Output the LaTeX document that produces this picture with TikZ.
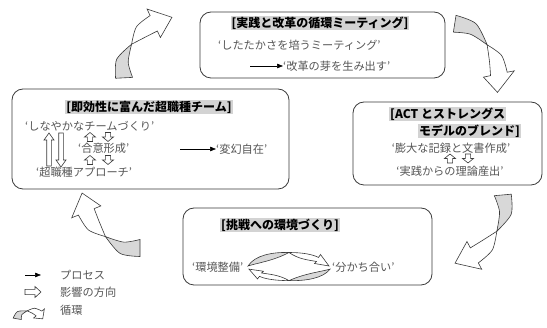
\documentclass[tikz,border=0pt]{standalone}
\usepackage{fontspec}
\newfontfamily\jp{Noto Sans CJK JP}
\usetikzlibrary{arrows.meta}
\definecolor{titlegray}{HTML}{D3D3D3}
\definecolor{bodygray}{HTML}{555555}
\definecolor{ribgray}{HTML}{D8D8D8}
\definecolor{linegray}{HTML}{3A3A3A}

% ribbon arrow: cx, cy, A0 (tail angle), A1 (tip angle), R0, R1, h
\newcommand{\ribbon}[7]{%
\pgfmathsetmacro\ribD{#4-#3}%
\pgfmathsetmacro\ribRD{#6-#5}%
\pgfmathsetmacro\ribAm{#3+0.2*\ribD}%
\pgfmathsetmacro\ribAt{#3+0.42*\ribD}%
\pgfmathsetmacro\ribAw{#3+0.6*\ribD}%
\pgfmathsetmacro\ribAb{#3+0.78*\ribD}%
\pgfmathsetmacro\ribRo{#5+#7}%
\pgfmathsetmacro\ribRi{#5-#7}%
\pgfmathsetmacro\ribRmo{#5+0.2*\ribRD+1.0*#7}%
\pgfmathsetmacro\ribRmi{#5+0.2*\ribRD-0.4*#7}%
\pgfmathsetmacro\ribRt{#5+0.42*\ribRD}%
\pgfmathsetmacro\ribRwo{#5+0.6*\ribRD+0.85*#7}%
\pgfmathsetmacro\ribRwi{#5+0.6*\ribRD-0.75*#7}%
\pgfmathsetmacro\ribRbo{#5+0.78*\ribRD+1.0*#7}%
\pgfmathsetmacro\ribRbi{#5+0.78*\ribRD-1.0*#7}%
\pgfmathsetmacro\ribRho{#5+0.78*\ribRD+1.85*#7}%
\pgfmathsetmacro\ribRhi{#5+0.78*\ribRD-1.85*#7}%
\begin{scope}[shift={(#1,#2)}]
\filldraw[ribback] plot[smooth] coordinates {(#3:\ribRo) (\ribAm:\ribRmo) (\ribAt:\ribRt)}
  -- plot[smooth] coordinates {(\ribAt:\ribRt) (\ribAm:\ribRmi) (#3:\ribRi)} -- cycle;
\filldraw[ribfront] plot[smooth] coordinates {(\ribAt:\ribRt) (\ribAw:\ribRwo) (\ribAb:\ribRbo)}
  -- (\ribAb:\ribRho) -- (#4:#6) -- (\ribAb:\ribRhi)
  -- plot[smooth] coordinates {(\ribAb:\ribRbi) (\ribAw:\ribRwi) (\ribAt:\ribRt)} -- cycle;
\end{scope}}

% hollow block arrow: x, y (base), rotation, length, shaft half width, head half width, head length
\newcommand{\hollowarrow}[7]{%
\draw[hollow,shift={(#1,#2)},rotate=#3] (0,-#5) -- ({#4-#7},-#5) -- ({#4-#7},-#6) -- (#4,0)
  -- ({#4-#7},#6) -- ({#4-#7},#5) -- (0,#5) -- cycle;}

% flat cycle arrow (drawn in local coordinates)
\newcommand{\flatcycle}{%
\filldraw[ribback] (-41,1) .. controls (-34,-10) and (-16,-13) .. (0,-12.5)
  .. controls (-16,-4) and (-32,-2) .. (-41,1) -- cycle;
\filldraw[ribfront] (0,-12.5) .. controls (14,-12.5) and (24,-10.5) .. (29.5,-7.5) -- (31.5,-10.5) -- (40,1)
  -- (25.5,-1.5) -- (27.5,-3.5) .. controls (20,-5) and (10,-5.5) .. (0,-12.5) -- cycle;}

\begin{document}
\begin{tikzpicture}[x=1pt,y=-1pt,
  box/.style={draw=linegray, line width=0.8pt, rounded corners=11pt, inner sep=0pt},
  title/.style={font=\jp\bfseries\fontsize{12}{14}\selectfont, fill=titlegray, text=black, inner sep=1pt},
  body/.style={font=\jp\fontsize{11.2}{13}\selectfont, text=bodygray, inner sep=0pt},
  proc/.style={-{Triangle[length=6pt,width=4.5pt]}, line width=0.6pt, black},
  hollow/.style={draw=linegray, fill=white, line width=0.6pt},
  ribback/.style={draw=linegray, fill=ribgray, line width=0.6pt},
  ribfront/.style={draw=linegray, fill=white, line width=0.6pt}]
\useasboundingbox (0,0) rectangle (547,328);

% boxes
\node[box, minimum width=245pt, minimum height=66pt] (topbox) at (322.5,45) {};
\node[box, minimum width=277pt, minimum height=100pt] (leftbox) at (150.5,139) {};
\node[box, minimum width=189pt, minimum height=83pt] (rightbox) at (447.5,143.5) {};
\node[box, minimum width=249pt, minimum height=77pt] (botbox) at (307.5,246.5) {};

% top box
\node[title] (t1) at (320,23) {[実践と改革の循環ミーティング]};
\node[body, anchor=west] (t1a) at (218,45) {‘したたかさを培うミーティング’};
\node[body, anchor=west] (t1b) at (283,66) {‘改革の芽を生み出す’};
\coordinate (t1s) at (250,66);
\draw[proc] (t1s) -- (t1b.west);

% left box
\node[title] (l1) at (149,107) {[即効性に富んだ超職種チーム]};
\node[body, anchor=west] (l1a) at (25,126) {‘しなやかなチームづくり’};
\node[body, anchor=west] (l1b) at (78,148) {‘合意形成’};
\node[body, anchor=west] (l1c) at (36,172) {‘超職種アプローチ’};
\node[body, anchor=west] (l1d) at (216,149) {‘変幻自在’};
\coordinate (l1s) at (180,149);
\draw[proc] (l1s) -- (l1d.west);
\hollowarrow{49}{166}{90}{33}{2.3}{5}{7}
\hollowarrow{61}{133}{-90}{34}{2.3}{5}{7}
\hollowarrow{90}{141.5}{90}{9}{2.6}{5.5}{4.5}
\hollowarrow{108}{132.5}{-90}{9}{2.6}{5.5}{4.5}
\hollowarrow{90}{164.5}{90}{9}{2.6}{5.5}{4.5}
\hollowarrow{108}{155.5}{-90}{9}{2.6}{5.5}{4.5}

% right box
\node[title, anchor=west] (r1) at (389,114) {[ACT とストレングス};
\node[title, anchor=east] (r2) at (521,131) {モデルのブレンド]};
\node[body] (r3) at (451,148) {‘膨大な記録と文書作成’};
\node[body] (r4) at (450,171) {‘実践からの理論産出’};
\hollowarrow{450}{163}{90}{9}{2.6}{5.5}{4.5}
\hollowarrow{468}{154}{-90}{9}{2.6}{5.5}{4.5}

% bottom box
\node[title] (b1) at (280,225) {[挑戦への環境づくり]};
\node[body, anchor=west] (b2) at (192,267) {‘環境整備’};
\node[body, anchor=west] (b3) at (332,267) {‘分かち合い’};
\begin{scope}[shift={(289,265)}]
\flatcycle
\end{scope}
\begin{scope}[shift={(289,270)}, rotate=180, yscale=0.85]
\flatcycle
\end{scope}

% big circulation arrows
\ribbon{178}{75}{177}{264}{54}{58}{8.5}
\ribbon{445}{85}{279}{368}{62}{53}{8.5}
\ribbon{445}{200}{-5}{81}{58}{64}{8.5}
\ribbon{140}{190}{90}{177}{58}{58}{8.5}

% legend
\coordinate (lg1a) at (25,275);
\node[body, anchor=west] (lg1) at (60,275) {プロセス};
\draw[proc] (lg1a) -- (41,275);
\hollowarrow{25}{292}{0}{16}{2.6}{5.5}{6}
\node[body, anchor=west] (lg2) at (60,292) {影響の方向};
\begin{scope}[shift={(30,321)}, yscale=0.8]
\ribbon{0}{0}{192}{348}{13}{13}{4.2}
\end{scope}
\node[body, anchor=west] (lg3) at (60,310) {循環};
\end{tikzpicture}
\end{document}
